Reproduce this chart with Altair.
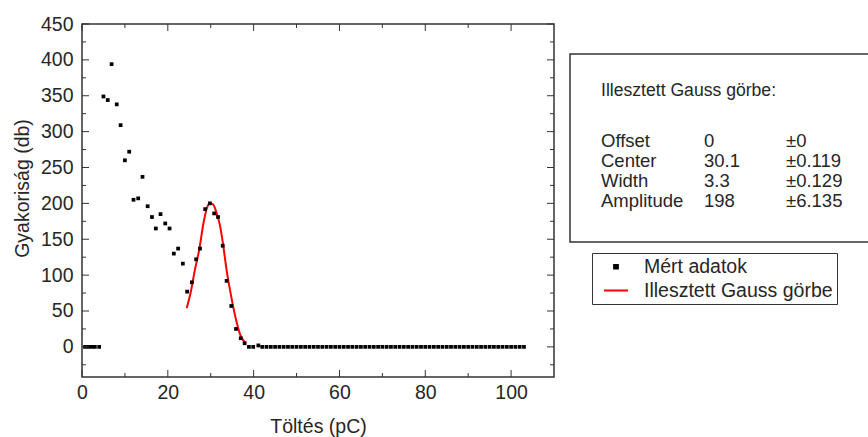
import altair as alt
import pandas as pd

# ---------------- data ----------------
x_data = [0.7, 1.5, 2.3, 3.0, 4.0, 5.0, 6.0, 6.9, 8.1, 9.0, 10.0, 11.0, 12.0, 13.1,
          14.1, 15.3, 16.3, 17.2, 18.3, 19.4, 20.4, 21.4, 22.4, 23.5, 24.5, 25.6,
          26.6, 27.5, 28.7, 29.8, 30.8, 31.7, 32.8, 33.7, 34.8, 35.9, 37.0, 37.9,
          38.9, 39.9, 41.1, 42.0, 43.0, 44.0, 45.0, 46.0, 47.0, 48.0, 49.0, 50.0,
          51.0, 52.0, 53.0, 54.0, 55.0, 56.0, 57.0, 58.0, 59.0, 60.0, 61.0, 62.0,
          63.0, 64.0, 65.0, 66.0, 67.0, 68.0, 69.0, 70.0, 71.0, 72.0, 73.0, 74.0,
          75.0, 76.0, 77.0, 78.0, 79.0, 80.0, 81.0, 82.0, 83.0, 84.0, 85.0, 86.0,
          87.0, 88.0, 89.0, 90.0, 91.0, 92.0, 93.0, 94.0, 95.0, 96.0, 97.0, 98.0,
          99.0, 100.0, 101.0, 102.0, 103.0]
y_data = [0, 0, 0, 0, 0, 349, 344, 394, 338, 309, 260, 272, 205, 207,
          237, 196, 181, 165, 185, 172, 165, 130, 137, 116, 77, 90,
          122, 137, 192, 200, 186, 181, 141, 92, 57, 25, 12, 5,
          0, 0, 2, 0, 0, 0, 0, 0, 0, 0, 0, 0,
          0, 0, 0, 0, 0, 0, 0, 0, 0, 0, 0, 0,
          0, 0, 0, 0, 0, 0, 0, 0, 0, 0, 0, 0,
          0, 0, 0, 0, 0, 0, 0, 0, 0, 0, 0, 0,
          0, 0, 0, 0, 0, 0, 0, 0, 0, 0, 0, 0,
          0, 0, 0, 0, 0]

fit_x = [24.4, 25.3, 26.3, 27.3, 28.3, 29.2, 29.8, 30.6, 31.4, 32.2, 32.9,
         33.7, 34.5, 35.3, 36.1, 36.8, 37.6, 38.2]
fit_y = [54, 75, 107, 135, 172, 195, 200, 198, 186, 168, 142,
         107, 79, 54, 33, 18, 9, 5]

legend_labels = ["Mért adatok", "Illesztett Gauss görbe"]

x_major = [0, 20, 40, 60, 80, 100]
x_minor = [10, 30, 50, 70, 90]
y_major = [0, 50, 100, 150, 200, 250, 300, 350, 400, 450]
y_minor = [-25, 25, 75, 125, 175, 225, 275, 325, 375, 425]

x_title = "Töltés (pC)"
y_title = "Gyakoriság (db)"

box_title = "Illesztett Gauss görbe:"
param_names = ["Offset", "Center", "Width", "Amplitude"]
param_values = ["0", "30.1", "3.3", "198"]
param_errors = ["±0", "±0.119", "±0.129", "±6.135"]

# ---------------- styling ----------------
W, H = 472, 353
FONT = "Liberation Sans"
TXT = "#262626"
FS = 19.5

xs = alt.Scale(domain=[0, 110], nice=False, zero=False)
ys = alt.Scale(domain=[-42, 450], nice=False, zero=False)

x_axis = alt.Axis(values=x_major, ticks=False, domain=False, grid=False,
                  labelFont=FONT, labelFontSize=FS, labelColor=TXT, labelPadding=6,
                  labelFlush=False, labelOverlap=False,
                  title=x_title, titleFont=FONT, titleFontSize=FS, titleFontWeight="normal",
                  titleColor=TXT, titleY=55, titleBaseline="alphabetic")
y_axis = alt.Axis(values=y_major, ticks=False, domain=False, grid=False,
                  labelFont=FONT, labelFontSize=FS, labelColor=TXT, labelPadding=9,
                  labelFlush=False, labelOverlap=False,
                  title=y_title, titleFont=FONT, titleFontSize=FS, titleFontWeight="normal",
                  titleColor=TXT, titleX=-60, titleY=164, titleBaseline="middle",
                  titleAlign="center")


def X(field):
    return alt.X(field, scale=xs, axis=x_axis)


def Y(field):
    return alt.Y(field, scale=ys, axis=y_axis)


pts_df = pd.DataFrame({"x": x_data, "y": y_data, "series": legend_labels[0]})
fit_df = pd.DataFrame({"x": fit_x, "y": fit_y, "series": legend_labels[1]})

leg = alt.Legend(title=None, orient="none", legendX=510, legendY=229,
                 strokeColor="#333333", fillColor="white", padding=4,
                 labelFont=FONT, labelFontSize=FS, labelColor=TXT, labelLimit=0,
                 labelOffset=15, rowPadding=0.5, symbolOffset=7, symbolStrokeWidth=2)

color = alt.Color("series:N", scale=alt.Scale(domain=legend_labels, range=["black", "red"]),
                  legend=leg)
shape = alt.Shape("series:N", scale=alt.Scale(domain=legend_labels, range=["square", "stroke"]),
                  legend=leg)
size = alt.Size("series:N", scale=alt.Scale(domain=legend_labels, range=[14, 576]),
                legend=leg)

fit = alt.Chart(fit_df).mark_line(strokeWidth=2, interpolate="monotone").encode(
    x=X("x:Q"), y=Y("y:Q"), color=color,
)

points = alt.Chart(pts_df).mark_point(filled=True, opacity=1).encode(
    x=X("x:Q"), y=Y("y:Q"), color=color, shape=shape, size=size,
)


# inward, mirrored tick marks
def xticks(vals, length):
    d = pd.DataFrame({"v": vals})
    bot = alt.Chart(d).mark_rule(color="#333333", strokeWidth=1).encode(
        x=X("v:Q"), y=alt.value(H), y2=alt.value(H - length))
    top = alt.Chart(d).mark_rule(color="#333333", strokeWidth=1).encode(
        x=X("v:Q"), y=alt.value(0), y2=alt.value(length))
    return [bot, top]


def yticks(vals, length):
    d = pd.DataFrame({"v": vals})
    lft = alt.Chart(d).mark_rule(color="#333333", strokeWidth=1).encode(
        y=Y("v:Q"), x=alt.value(0), x2=alt.value(length))
    rgt = alt.Chart(d).mark_rule(color="#333333", strokeWidth=1).encode(
        y=Y("v:Q"), x=alt.value(W), x2=alt.value(W - length))
    return [lft, rgt]


ticks = xticks(x_major, 7) + xticks(x_minor, 4) + yticks(y_major, 7) + yticks(y_minor, 4)

# fit-results text box
box = alt.Chart(pd.DataFrame({"k": [0]})).mark_rect(
    fillOpacity=0, stroke="#333333", strokeWidth=1.5).encode(
    x=alt.value(488), x2=alt.value(800), y=alt.value(30), y2=alt.value(218))


def text_item(txt, xpos, ypos, fs):
    d = pd.DataFrame({"t": [txt]})
    return alt.Chart(d).mark_text(
        align="left", baseline="alphabetic", font=FONT, fontSize=fs, color=TXT).encode(
        text="t:N", x=alt.value(xpos), y=alt.value(ypos))


ROW0, ROWH, ROWFS = 123.3, 19.8, 18.5
texts = [text_item(box_title, 519, 72, 17.6)]
for i in range(len(param_names)):
    yy = ROW0 + i * ROWH
    texts.append(text_item(param_names[i], 519, yy, ROWFS))
    texts.append(text_item(param_values[i], 622, yy, ROWFS))
    texts.append(text_item(param_errors[i], 704, yy, ROWFS))

chart = alt.layer(fit, points, *ticks, box, *texts).properties(
    width=W, height=H,
    padding={"left": 82, "top": 24, "right": 314, "bottom": 60},
    autosize=alt.AutoSizeParams(type="none"),
    background="white",
).configure_view(stroke="#333333", strokeWidth=1.5)

chart.save("out.html", embed_options={"renderer": "svg", "actions": False})
